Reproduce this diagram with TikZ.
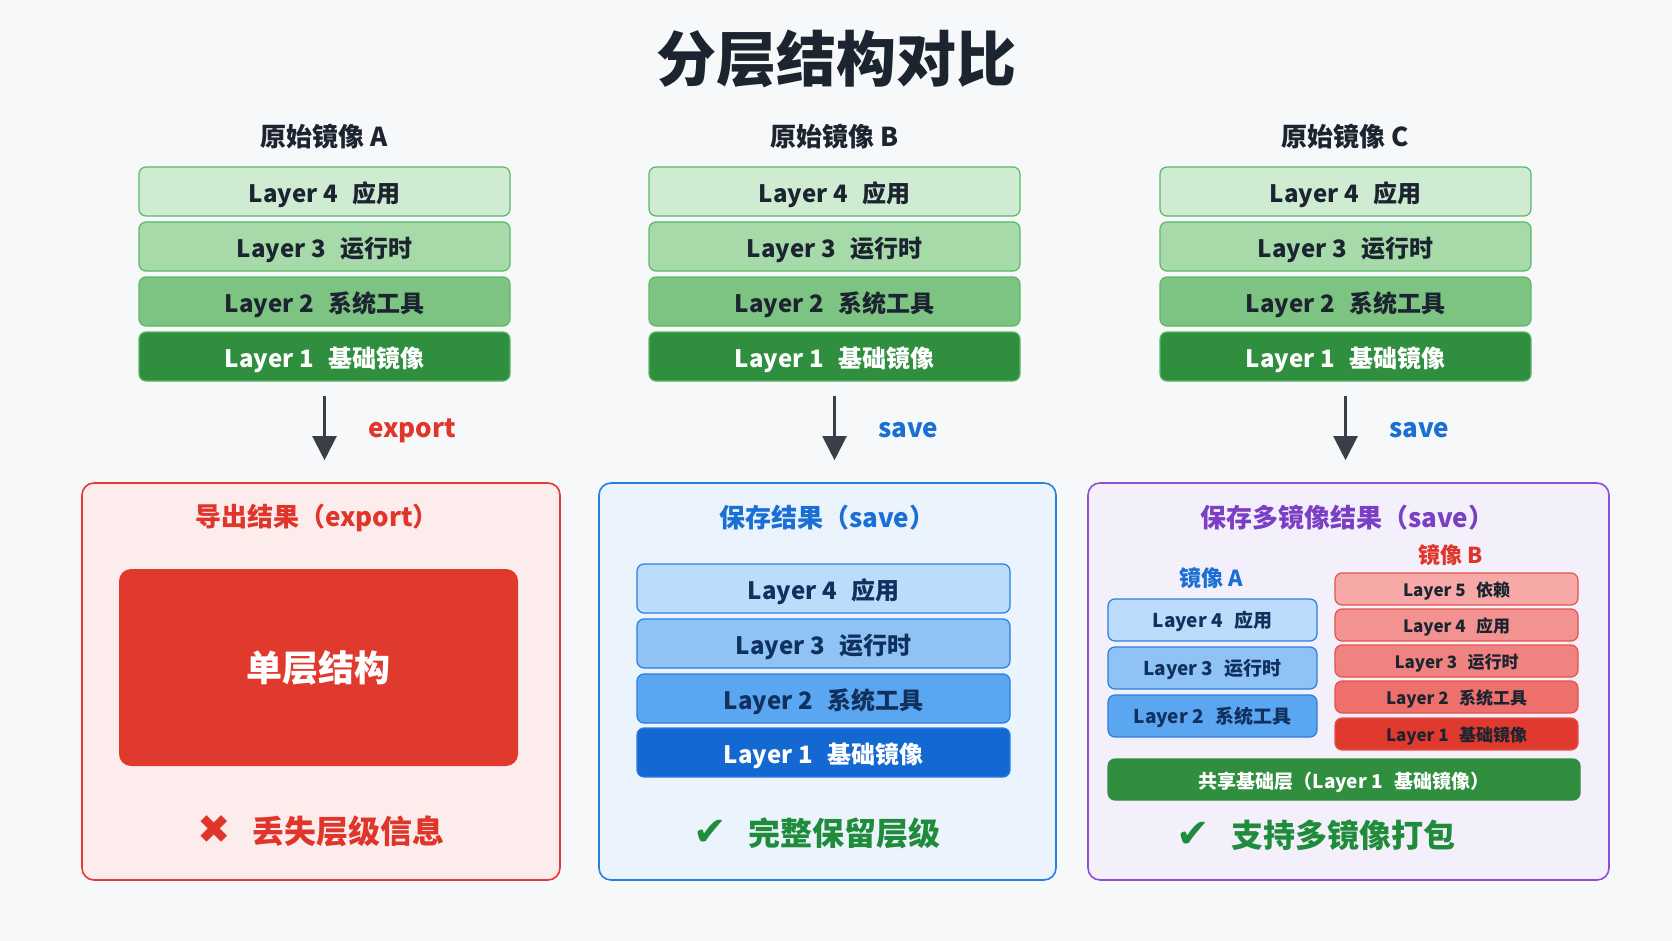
\documentclass[tikz,border=0pt]{standalone}
\usepackage{fontspec}
\setmainfont{Noto Sans CJK SC}
\newfontfamily\symfont{DejaVu Sans}
\usetikzlibrary{arrows.meta}

\definecolor{bgcol}{HTML}{F7F8FA}
\definecolor{ink}{HTML}{1C2430}
\definecolor{navy}{HTML}{10305E}
\definecolor{arrowcol}{HTML}{3A3F47}
% green stacks
\definecolor{gFour}{HTML}{CFECD2}
\definecolor{gThree}{HTML}{A6DAA9}
\definecolor{gTwo}{HTML}{7DC382}
\definecolor{gOne}{HTML}{2F8F3F}
\definecolor{gLine}{HTML}{5DB865}
% blue stacks
\definecolor{bFour}{HTML}{BBDCFA}
\definecolor{bThree}{HTML}{8FC3F5}
\definecolor{bTwo}{HTML}{5AA6F0}
\definecolor{bOne}{HTML}{1468D2}
\definecolor{bLine}{HTML}{2A7DE1}
% red stack
\definecolor{rFive}{HTML}{F7A9A8}
\definecolor{rFour}{HTML}{F39391}
\definecolor{rThree}{HTML}{F08280}
\definecolor{rTwo}{HTML}{ED706D}
\definecolor{rOne}{HTML}{E03A2E}
\definecolor{rLine}{HTML}{E5534B}
% panels
\definecolor{redline}{HTML}{E53935}
\definecolor{redfill}{HTML}{FDECEC}
\definecolor{blueline}{HTML}{2A7DE1}
\definecolor{bluefill}{HTML}{EBF3FC}
\definecolor{purpline}{HTML}{8E4FD0}
\definecolor{purpfill}{HTML}{F4F0FB}
\definecolor{purptext}{HTML}{7B3FC4}
\definecolor{redtext}{HTML}{E0352B}
\definecolor{bluetext}{HTML}{1A6FD4}
\definecolor{oktext}{HTML}{1E8C3A}

\newcommand{\fs}[1]{\fontsize{#1}{#1}\selectfont}
\newcommand{\marksym}[1]{{\symfont\fontsize{40}{40}\selectfont #1}\hspace{0.7em}}

\tikzset{
  layer/.style={draw=gLine, rounded corners=7pt, line width=1.2pt,
    minimum width=371pt, minimum height=49pt, inner sep=0pt,
    text height=22pt, text depth=0pt,
    font=\fs{24}\bfseries},
  small layer/.style={text height=#1, text depth=0pt},
  panel/.style={rounded corners=12pt, line width=1.6pt,
    minimum height=397pt, inner sep=0pt},
  flow/.style={draw=arrowcol, line width=2.2pt,
    -{Triangle[length=24pt,width=24pt]}},
  heading/.style={font=\fs{26}\bfseries},
}

\begin{document}
\begin{tikzpicture}[x=1pt,y=-1pt]
    % Background
    \fill[bgcol] (0,0) rectangle (1672,941);

    % Title
    \node[font=\fs{60}\bfseries, text=ink] (title) at (836,59) {分层结构对比};

    % Source images: three identical green stacks
    \foreach \col/\cx/\hdr in {a/324.5/A, b/834.5/B, c/1345.5/C} {
        \node[heading, text=ink] (\col h) at (\cx,137) {原始镜像 \hdr};
        \foreach \n/\y/\fc/\tc/\lab in {4/191.5/gFour/ink/应用,
                                         3/246.5/gThree/ink/运行时,
                                         2/301.5/gTwo/ink/系统工具,
                                         1/356.5/gOne/white/基础镜像} {
            \node[layer, fill=\fc, text=\tc] (\col\n) at (\cx,\y)
                {Layer \n\hspace{0.6em}\lab};
        }
    }

    % Result panels
    \node[panel, draw=redline, fill=redfill, minimum width=478pt] (pa) at (321,681.5) {};
    \node[panel, draw=blueline, fill=bluefill, minimum width=457pt] (pb) at (827.5,681.5) {};
    \node[panel, draw=purpline, fill=purpfill, minimum width=521pt] (pc) at (1348.5,681.5) {};

    % Arrows with command labels
    \foreach \col/\p/\lab/\lc in {a/pa/export/redtext, b/pb/save/bluetext, c/pc/save/bluetext} {
        \draw[flow, shorten <=14pt, shorten >=22pt] (\col1.south) -- (\col1.south |- \p.north);
        \node[heading, text=\lc, anchor=west] (\col cmd) at ([xshift=40pt,yshift=-49pt]\col1.south) {\lab};
    }

    % Panel A: export
    \node[heading, text=redtext] (pat) at (317,518) {导出结果（export）};
    \node[fill=rOne, rounded corners=12pt, minimum width=399pt, minimum height=197pt,
          font=\fs{36}\bfseries, text=white] (single) at (318.5,667.5) {单层结构};
    \node[font=\fs{32}\bfseries, text=redtext] (lost) at (321,831)
        {\marksym{✖}丢失层级信息};

    % Panel B: save
    \node[heading, text=bluetext] (pbt) at (827,518) {保存结果（save）};
    \foreach \n/\y/\fc/\tc/\lab in {4/588.5/bFour/navy/应用,
                                     3/643.5/bThree/navy/运行时,
                                     2/698.5/bTwo/navy/系统工具,
                                     1/752.5/bOne/white/基础镜像} {
        \node[layer, draw=bLine, fill=\fc, text=\tc, minimum width=373pt] (s\n) at (823.5,\y)
            {Layer \n\hspace{0.6em}\lab};
    }
    \node[font=\fs{32}\bfseries, text=oktext] (kept) at (817,833)
        {\marksym{✔}完整保留层级};

    % Panel C: save with several images
    \node[heading, text=purptext] (pct) at (1347,518) {保存多镜像结果（save）};
    \node[font=\fs{22}\bfseries, text=bluetext] (imga) at (1211,578) {镜像 A};
    \node[font=\fs{22}\bfseries, text=redtext] (imgb) at (1451,555) {镜像 B};

    % image A layers
    \foreach \n/\y/\fc/\lab in {4/620/bFour/应用, 3/668/bThree/运行时, 2/716/bTwo/系统工具} {
        \node[layer, small layer=15pt, draw=bLine, fill=\fc, text=navy, minimum width=209pt,
              minimum height=42pt, font=\fs{19}\bfseries] (ia\n) at (1212.5,\y)
            {Layer \n\hspace{0.6em}\lab};
    }
    % image B layers
    \foreach \n/\y/\fc/\lab in {5/589/rFive/依赖, 4/625/rFour/应用, 3/661/rThree/运行时,
                                2/697/rTwo/系统工具, 1/734/rOne/基础镜像} {
        \node[layer, small layer=14pt, draw=rLine, fill=\fc, text=ink, minimum width=243pt,
              minimum height=32pt, font=\fs{17}\bfseries] (ib\n) at (1456.5,\y)
            {Layer \n\hspace{0.6em}\lab};
    }
    % shared base layer
    \node[layer, small layer=18pt, draw=gOne, fill=gOne, text=white, minimum width=472pt,
          minimum height=41pt, font=\fs{19}\bfseries] (base) at (1344,779.5)
        {共享基础层（Layer 1\hspace{0.6em}基础镜像）};
    \node[font=\fs{32}\bfseries, text=oktext] (multi) at (1316,835)
        {\marksym{✔}支持多镜像打包};
\end{tikzpicture}
\end{document}
